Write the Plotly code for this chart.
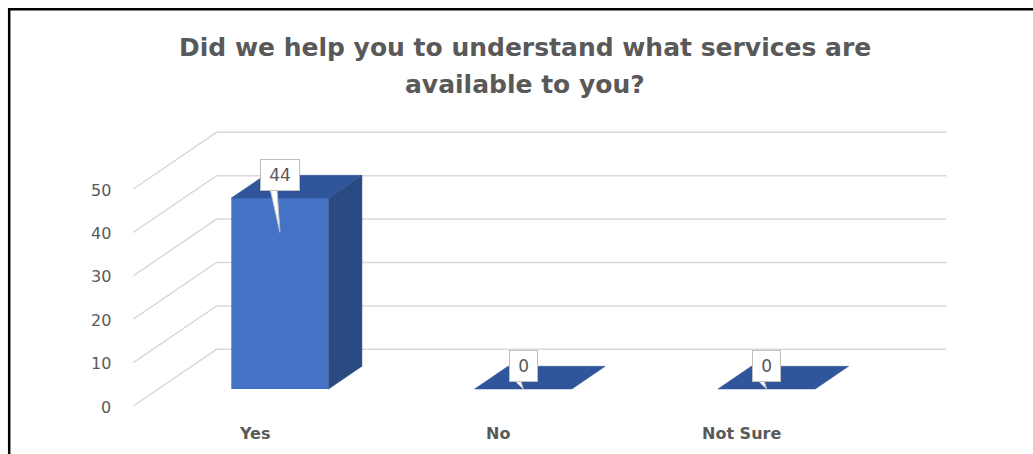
import plotly.graph_objects as go

# ---- data -------------------------------------------------------------
categories = ["Yes", "No", "Not Sure"]
responses = [44, 0, 0]
y_ticks = [0, 10, 20, 30, 40, 50]
title_lines = ["Did we help you to understand what services are", "available to you?"]

# ---- geometry of the oblique (pseudo 3-D) projection -------------------
W, H = 1033, 454
FLOOR_LEFT_PX = 133.3      # pixel x of the front-left floor corner
FLOOR_ZERO_PX = 406.0      # pixel y of value 0 at the front edge
CAT_PX = 243.33            # pixels per category slot
UNIT_PX = 4.34             # pixels per value unit
DEPTH_DX_PX = 83.3         # horizontal shift from front to back wall
DEPTH_DY_PX = 56.7         # vertical shift from front to back wall

KX = DEPTH_DX_PX / CAT_PX
KY = DEPTH_DY_PX / UNIT_PX

BAR_W = 0.4                # bar width as a share of a category slot
D_FRONT, D_BACK = 0.3, 0.7 # bar depth span (0 = front edge, 1 = back wall)
TAIL_FRAC = 0.82           # callout pointer tip, share of bar height

GRID = "#D9D9D9"
FRONT = "#4472C4"
TOP = "#30559A"
SIDE = "#2A4A82"
TEXT = "#595959"
FONT = "DejaVu Sans"


def proj(x, v, d):
    """Project (category x, value v, depth d) onto the 2-D axes."""
    return x + d * KX, v + d * KY


def px_x(p):
    return p / CAT_PX


def px_y(p):
    return p / UNIT_PX


n = len(categories)
fig = go.Figure()

# back wall / side wall gridlines
shapes = []
for t in y_ticks:
    x0, y0 = proj(0, t, 0)
    x1, y1 = proj(0, t, 1)
    x2, y2 = proj(n, t, 1)
    shapes.append(dict(
        type="path", xref="x", yref="y", layer="below",
        path=f"M {x0},{y0} L {x1},{y1} L {x2},{y2}",
        line=dict(color=GRID, width=1.5),
    ))

# outer frame of the chart
shapes.append(dict(type="line", xref="paper", yref="paper",
                   x0=9.2 / W, x1=9.2 / W, y0=1 - 8 / H, y1=0,
                   line=dict(color="black", width=2.5)))
shapes.append(dict(type="line", xref="paper", yref="paper",
                   x0=8 / W, x1=1.0, y0=1 - 9.2 / H, y1=1 - 9.2 / H,
                   line=dict(color="black", width=2.5)))

# front faces of the columns
centers = [i + 0.5 for i in range(n)]
fig.add_trace(go.Bar(
    x=[proj(c, 0, D_FRONT)[0] for c in centers],
    y=responses,
    base=[proj(0, 0, D_FRONT)[1]] * n,
    width=BAR_W,
    marker=dict(color=FRONT, line=dict(width=0)),
    hoverinfo="skip",
))

# side and top faces
for c, v in zip(centers, responses):
    l, r = c - BAR_W / 2, c + BAR_W / 2
    if v > 0:
        side = [proj(r, 0, D_FRONT), proj(r, v, D_FRONT),
                proj(r, v, D_BACK), proj(r, 0, D_BACK), proj(r, 0, D_FRONT)]
        fig.add_trace(go.Scatter(
            x=[p[0] for p in side], y=[p[1] for p in side],
            mode="lines", fill="toself", fillcolor=SIDE,
            line=dict(color=SIDE, width=0.5), hoverinfo="skip"))
    top = [proj(l, v, D_FRONT), proj(r, v, D_FRONT),
           proj(r, v, D_BACK), proj(l, v, D_BACK), proj(l, v, D_FRONT)]
    fig.add_trace(go.Scatter(
        x=[p[0] for p in top], y=[p[1] for p in top],
        mode="lines", fill="toself", fillcolor=TOP,
        line=dict(color=TOP, width=0.5), hoverinfo="skip"))

# data-label callouts: pointer wedge + boxed value
annotations = []
BOX_H = 22
BOX_PAD = 4
for c, v in zip(centers, responses):
    bx, by = proj(c, v, D_BACK)
    bx = proj(c, 0, D_FRONT)[0]
    tip_x, tip_y = proj(c, v * TAIL_FRAC, D_FRONT)
    base_y = by - px_y(BOX_H / 2 + BOX_PAD)
    wedge_x = [bx - px_x(10), tip_x, bx - px_x(3), bx - px_x(10)]
    wedge_y = [base_y + px_y(2), tip_y, base_y + px_y(2), base_y + px_y(2)]
    fig.add_trace(go.Scatter(
        x=wedge_x, y=wedge_y, mode="lines", fill="toself",
        fillcolor="white", line=dict(color="#BFBFBF", width=1),
        hoverinfo="skip"))
    label = str(v)
    annotations.append(dict(
        x=bx, y=by, xref="x", yref="y", text=label, showarrow=False,
        font=dict(family=FONT, size=17, color=TEXT),
        bgcolor="white", bordercolor="#BFBFBF", borderwidth=1,
        borderpad=BOX_PAD, width=8.5 + 10.8 * len(label), height=BOX_H,
        xanchor="center", yanchor="middle"))

# value axis labels (at the front edge)
for t in y_ticks:
    annotations.append(dict(
        x=0, y=t, xref="x", yref="y", text=str(t), showarrow=False,
        xanchor="right", yanchor="middle", xshift=-20, yshift=-1,
        font=dict(family=FONT, size=16, color=TEXT)))

# category labels
for c, name in zip(centers, categories):
    annotations.append(dict(
        x=c, y=0, xref="x", yref="y", text=f"<b>{name}</b>", showarrow=False,
        xanchor="center", yanchor="middle", yshift=-27,
        font=dict(family=FONT, size=16, color=TEXT)))

# title
for k, (line, ypx) in enumerate(zip(title_lines, [47, 84])):
    annotations.append(dict(
        x=525 / W, y=1 - ypx / H, xref="paper", yref="paper",
        text=f"<b>{line}</b>", showarrow=False,
        xanchor="center", yanchor="middle",
        font=dict(family=FONT, size=25, color=TEXT)))

fig.update_layout(
    width=W, height=H,
    margin=dict(l=0, r=0, t=0, b=0),
    paper_bgcolor="white", plot_bgcolor="white",
    showlegend=False, hovermode=False,
    xaxis=dict(range=[-FLOOR_LEFT_PX / CAT_PX, (W - FLOOR_LEFT_PX) / CAT_PX],
               visible=False, fixedrange=True),
    yaxis=dict(range=[-(H - FLOOR_ZERO_PX) / UNIT_PX, FLOOR_ZERO_PX / UNIT_PX],
               visible=False, fixedrange=True),
    shapes=shapes,
    annotations=annotations,
)

fig.write_html("out.html")
